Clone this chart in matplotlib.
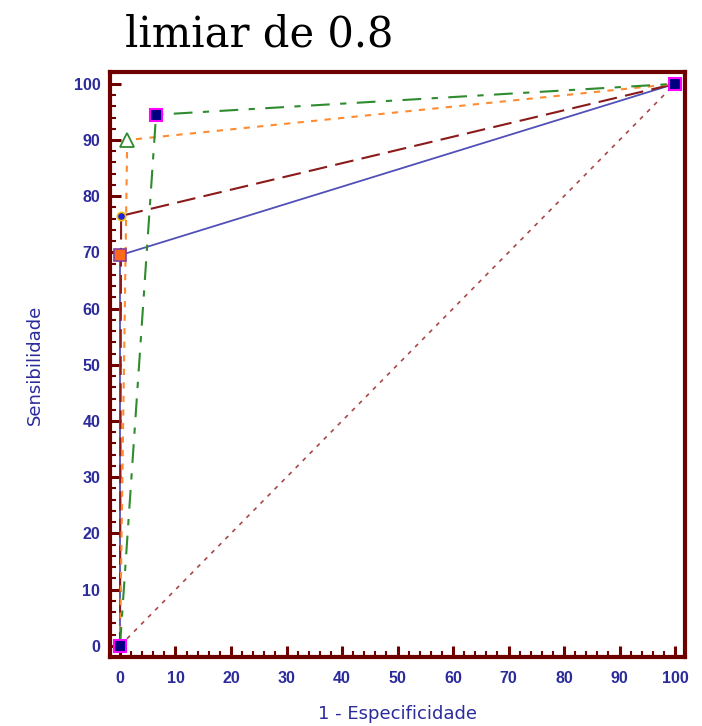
import matplotlib
matplotlib.use("Agg")
import matplotlib.pyplot as plt
from matplotlib.ticker import MultipleLocator

# Data (1 - specificity, sensitivity)
diag_x = [0, 100]
diag_y = [0, 100]
blue_x = [0, 0, 100]
blue_y = [0, 69.5, 100]
red_x = [0, 0.2, 100]
red_y = [0, 76.5, 100]
orange_x = [0, 1.3, 100]
orange_y = [0, 90.0, 100]
green_x = [0, 6.5, 100]
green_y = [0, 94.5, 100]

xticks = list(range(0, 101, 10))
yticks = list(range(0, 101, 10))

fig = plt.figure(figsize=(7.02, 7.26), dpi=100)
ax = fig.add_axes([0.1567, 0.095, 0.8191, 0.8058])

frame = '#6e0000'
txt = '#2b2b9c'

ax.plot(diag_x, diag_y, color='#a84848', lw=1.2, dashes=(2.5, 3.5), zorder=2)
ax.plot(blue_x, blue_y, color='#5050b8', lw=1.3, zorder=3)
ax.plot(red_x, red_y, color='#8b1a1a', lw=1.5, dashes=(9, 4), zorder=3)
ax.plot(orange_x, orange_y, color='#ff8a30', lw=1.5, dashes=(3, 3.5), zorder=3)
ax.plot(green_x, green_y, color='#2e8b2e', lw=1.5, dashes=(9, 5, 3, 5), zorder=3)

# markers
ax.plot([blue_x[1]], [blue_y[1]], marker='s', ms=8, mfc='#ff6a1a', mec='#8040a0', mew=1.2, ls='none', zorder=5)
ax.plot([red_x[1]], [red_y[1]], marker='o', ms=6, mfc='#2020e0', mec='#f0c000', mew=1.2, ls='none', zorder=5)
ax.plot([orange_x[1]], [orange_y[1]], marker='^', ms=10, mfc='white', mec='#2e8b2e', mew=1.3, ls='none', zorder=5)
ax.plot(green_x, green_y, marker='s', ms=8,
        mfc='#000080', mec='#ff00ff', mew=1.5, ls='none', zorder=6, clip_on=False)

ax.set_xlim(-1.8, 101.8)
ax.set_ylim(-2.0, 102.1)
ax.set_xticks(xticks)
ax.set_yticks(yticks)
ax.xaxis.set_minor_locator(MultipleLocator(2))
ax.yaxis.set_minor_locator(MultipleLocator(2))
ax.tick_params(which='major', direction='in', length=8, width=2.2, color=frame,
               labelsize=11.5, labelcolor=txt)
ax.tick_params(axis='x', which='major', pad=10)
ax.tick_params(axis='y', which='major', pad=7)
ax.tick_params(which='minor', direction='in', length=4, width=1.5, color=frame)
for lab in ax.get_xticklabels() + ax.get_yticklabels():
    lab.set_fontfamily('Liberation Sans')
    lab.set_fontweight('bold')

for s in ax.spines.values():
    s.set_color(frame)
    s.set_linewidth(3)

ax.set_xlabel('1 - Especificidade', fontsize=13, color=txt, family='DejaVu Sans', labelpad=14)
ax.set_ylabel('Sensibilidade', fontsize=13, color=txt, family='DejaVu Sans', labelpad=21)

fig.text(0.178, 0.953, 'limiar de 0.8', fontsize=30, family='DejaVu Serif',
         ha='left', va='center', color='black')

fig.savefig('out.png', dpi=100)
